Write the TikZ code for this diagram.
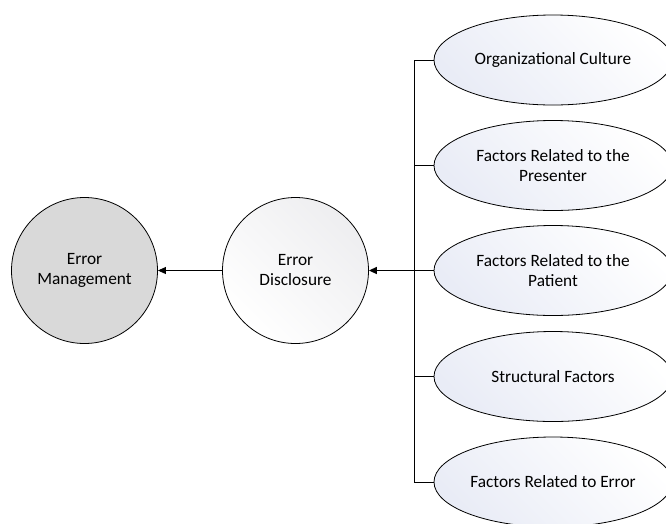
\documentclass[tikz,border=0pt]{standalone}
\usepackage{fontspec}
\setmainfont{Carlito}
\usetikzlibrary{shapes.geometric,arrows.meta}
\definecolor{emfill}{HTML}{D9D9D9}
\definecolor{lav}{HTML}{E9ECF6}
\definecolor{edgray}{HTML}{EEEEF0}
\tikzset{
  lbl/.style={font=\fontsize{17.3}{20}\selectfont, align=center, text=black},
  circ/.style={circle, draw=black, line width=0.8pt, minimum size=146pt, inner sep=0pt, lbl},
  ell/.style={ellipse, draw=black, line width=0.8pt, minimum width=238pt, minimum height=90pt, inner sep=0pt, lbl,
    left color=lav, right color=white, shading angle=135},
  wire/.style={draw=black, line width=0.9pt},
  arr/.style={wire, -{Triangle[length=8pt,width=7pt]}}
}
\begin{document}
\begin{tikzpicture}[x=1pt,y=-1pt]
\clip (0,0) rectangle (666,523);
\fill[white] (0,0) rectangle (666,523);
\node[circ, fill=emfill] (em) at (84.5,270.5) {Error\\Management};
\node[circ, left color=white, right color=edgray, shading angle=135] (ed) at (295.5,270.5) {Error\\Disclosure};
\node[ell] (e1) at (553,60) {Organizational Culture};
\node[ell] (e2) at (553,165.5) {Factors Related to the\\Presenter};
\node[ell] (e3) at (553,270.5) {Factors Related to the\\Patient};
\node[ell] (e4) at (553,376.5) {Structural Factors};
\node[ell] (e5) at (553,482) {Factors Related to Error};
\coordinate (b1) at (414,60);
\coordinate (b2) at (414,165.5);
\coordinate (b3) at (414,270.5);
\coordinate (b4) at (414,376.5);
\coordinate (b5) at (414,482);
\draw[wire] (b1) -- (b5);
\foreach \i in {1,...,5} { \draw[wire] (b\i) -- (e\i.west); }
\draw[arr, line width=1.5pt] (b3) -- (ed.east);
\draw[arr] (ed.west) -- (em.east);
\end{tikzpicture}
\end{document}
